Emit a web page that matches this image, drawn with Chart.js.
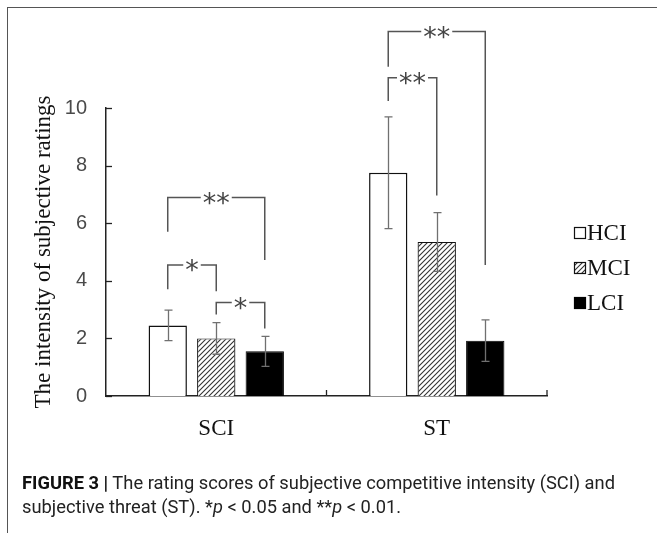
<!DOCTYPE html>
<html><head><meta charset="utf-8">
<script src="https://cdn.jsdelivr.net/npm/chart.js@4"></script>
<style>
html,body{margin:0;padding:0;background:#fff;}
#wrap{position:relative;width:657px;height:533px;overflow:hidden;background:#fff;}
#frame{position:absolute;left:7px;top:7px;width:720px;height:620px;border-left:1.5px solid #555;border-top:1.5px solid #555;}
#c{position:absolute;left:0;top:0;}
#cap{position:absolute;left:22px;top:471px;font-family:Roboto,'Liberation Sans',sans-serif;font-size:18px;line-height:24px;color:#222;white-space:nowrap;transform-origin:0 0;}
#cap b{color:#111;}
</style></head><body>
<div id="wrap"><div id="frame"></div><canvas id="c" width="657" height="533"></canvas>
<div id="cap"><span id="l1"><b>FIGURE 3 |</b> The rating scores of subjective competitive intensity (SCI) and</span><br>subjective threat (ST). *<i>p</i> &lt; 0.05 and **<i>p</i> &lt; 0.01.</div></div>
<script>
// ---- data ----
const categories = ['SCI', 'ST'];
const seriesNames = ['HCI', 'MCI', 'LCI'];
const HCI = [2.45, 7.75];
const MCI = [2.00, 5.35];
const LCI = [1.55, 1.92];
const HCI_err = [0.53, 1.94];
const MCI_err = [0.55, 1.02];
const LCI_err = [0.52, 0.72];
const yTicks = [0, 2, 4, 6, 8, 10];
// significance brackets (values in rating units)
const bracketCat   = [0, 0, 0, 1, 1];
const bracketFrom  = [0, 0, 1, 0, 0];
const bracketTo    = [2, 1, 2, 2, 1];
const bracketTop   = [6.89, 4.55, 3.25, 12.66, 11.05];
const bracketLeftEnd  = [5.70, 3.71, 2.83, 11.43, 10.24];
const bracketRightEnd = [4.72, 3.64, 2.34, 4.55, 6.96];
const bracketLabel = ['**', '*', '*', '**', '**'];

const errs = [HCI_err, MCI_err, LCI_err];

function makeHatch() {
  const s = 5;
  const c = document.createElement('canvas'); c.width = s; c.height = s;
  const g = c.getContext('2d');
  g.fillStyle = '#fff'; g.fillRect(0, 0, s, s);
  g.strokeStyle = '#333'; g.lineWidth = 1.1;
  g.beginPath();
  g.moveTo(0, s); g.lineTo(s, 0);
  g.moveTo(-1, 1); g.lineTo(1, -1);
  g.moveTo(s - 1, s + 1); g.lineTo(s + 1, s - 1);
  g.stroke();
  return g.createPattern(c, 'repeat');
}
const hatch = makeHatch();
const serif = '"Liberation Serif", "Times New Roman", serif';

const LEG_X = 574, LEG_Y0 = 233, LEG_STEP = 35, LEG_BOX = 12;

const overlay = {
  id: 'overlay',
  afterDatasetsDraw(chart) {
    const ctx = chart.ctx, y = chart.scales.y, x = chart.scales.x, ca = chart.chartArea;
    ctx.save();
    // inner y ticks
    ctx.strokeStyle = '#222'; ctx.lineWidth = 1.3;
    y.ticks.forEach(t => {
      const py = Math.round(y.getPixelForValue(t.value)) + 0.5;
      ctx.beginPath(); ctx.moveTo(ca.left, py); ctx.lineTo(ca.left + 6, py); ctx.stroke();
    });
    // x category boundary ticks (upward)
    const w = x.getPixelForValue(1) - x.getPixelForValue(0);
    categories.forEach((c, i) => {
      const px = x.getPixelForValue(i) + w / 2;
      ctx.beginPath(); ctx.moveTo(px, ca.bottom); ctx.lineTo(px, ca.bottom - 6); ctx.stroke();
    });
    // error bars
    ctx.strokeStyle = '#707070'; ctx.lineWidth = 1.3;
    chart.data.datasets.forEach((ds, di) => {
      const meta = chart.getDatasetMeta(di);
      meta.data.forEach((bar, i) => {
        const v = ds.data[i], e = errs[di][i];
        const bx = Math.round(bar.x) + 0.5;
        const yt = y.getPixelForValue(v + e), yb = y.getPixelForValue(v - e);
        ctx.beginPath();
        ctx.moveTo(bx, yt); ctx.lineTo(bx, yb);
        ctx.moveTo(bx - 4, yt); ctx.lineTo(bx + 4, yt);
        ctx.moveTo(bx - 4, yb); ctx.lineTo(bx + 4, yb);
        ctx.stroke();
      });
    });
    // brackets
    ctx.font = '27px "DejaVu Sans"';
    ctx.textAlign = 'center'; ctx.textBaseline = 'alphabetic';
    bracketCat.forEach((c, k) => {
      const x1 = chart.getDatasetMeta(bracketFrom[k]).data[c].x;
      const x2 = chart.getDatasetMeta(bracketTo[k]).data[c].x;
      const yt = y.getPixelForValue(bracketTop[k]);
      const yl = y.getPixelForValue(bracketLeftEnd[k]);
      const yr = y.getPixelForValue(bracketRightEnd[k]);
      ctx.strokeStyle = '#555'; ctx.lineWidth = 1.5;
      ctx.beginPath();
      ctx.moveTo(x1, yl); ctx.lineTo(x1, yt); ctx.lineTo(x2, yt); ctx.lineTo(x2, yr);
      ctx.stroke();
      const mx = (x1 + x2) / 2;
      const tw = ctx.measureText(bracketLabel[k]).width;
      ctx.fillStyle = '#fff';
      ctx.fillRect(mx - tw / 2 - 2, yt - 3, tw + 4, 6);
      ctx.fillStyle = '#444';
      ctx.fillText(bracketLabel[k], mx, yt + 14.5);
    });
    // legend (from dataset styles)
    ctx.font = '23px ' + serif;
    ctx.textAlign = 'left'; ctx.textBaseline = 'middle';
    chart.data.datasets.forEach((ds, di) => {
      const cy = LEG_Y0 + di * LEG_STEP;
      const bx = LEG_X, by = Math.round(cy - LEG_BOX / 2);
      ctx.fillStyle = ds.backgroundColor;
      ctx.fillRect(bx, by, LEG_BOX, LEG_BOX);
      ctx.strokeStyle = ds.borderColor; ctx.lineWidth = 1.2;
      ctx.strokeRect(bx + 0.5, by + 0.5, LEG_BOX - 1, LEG_BOX - 1);
      ctx.fillStyle = '#111';
      ctx.fillText(ds.label, bx + LEG_BOX + 1, cy + 1);
    });
    ctx.restore();
  }
};

new Chart(document.getElementById('c'), {
  type: 'bar',
  data: {
    labels: categories,
    datasets: [
      { label: seriesNames[0], data: HCI, backgroundColor: '#ffffff', borderColor: '#111', borderWidth: 1.5 },
      { label: seriesNames[1], data: MCI, backgroundColor: hatch, borderColor: '#111', borderWidth: 1.2 },
      { label: seriesNames[2], data: LCI, backgroundColor: '#000000', borderColor: '#000', borderWidth: 1 }
    ]
  },
  options: {
    responsive: false,
    animation: false,
    devicePixelRatio: 1,
    categoryPercentage: 0.66,
    barPercentage: 0.79,
    layout: { padding: { top: 108, left: 0, right: 110, bottom: 77 } },
    plugins: {
      legend: { display: false },
      tooltip: { enabled: false }
    },
    scales: {
      x: {
        grid: { display: false, drawTicks: false },
        border: { display: true, color: '#222', width: 1.5 },
        ticks: { color: '#111', font: { family: serif, size: 23 }, padding: 19 },
        afterFit(s) { s.height = 60; }
      },
      y: {
        min: 0, max: 10,
        afterBuildTicks(s) { s.ticks = yTicks.map(v => ({ value: v })); },
        grid: { display: false, drawTicks: false },
        border: { display: true, color: '#222', width: 1.5 },
        ticks: { color: '#4a4a4a', font: { family: '"Liberation Sans", Arial, sans-serif', size: 20 }, padding: 19 },
        title: {
          display: true,
          text: 'The intensity of subjective ratings',
          color: '#111',
          font: { family: serif, size: 23 },
          padding: { top: 30, bottom: 0 }
        },
        afterFit(s) { s.width = 106; }
      }
    }
  },
  plugins: [overlay]
});

// fit caption width
const cap = document.getElementById('cap');
const w1 = document.getElementById('l1').getBoundingClientRect().width;
cap.style.transform = 'scaleX(' + (593 / w1) + ')';
</script>
</body></html>
